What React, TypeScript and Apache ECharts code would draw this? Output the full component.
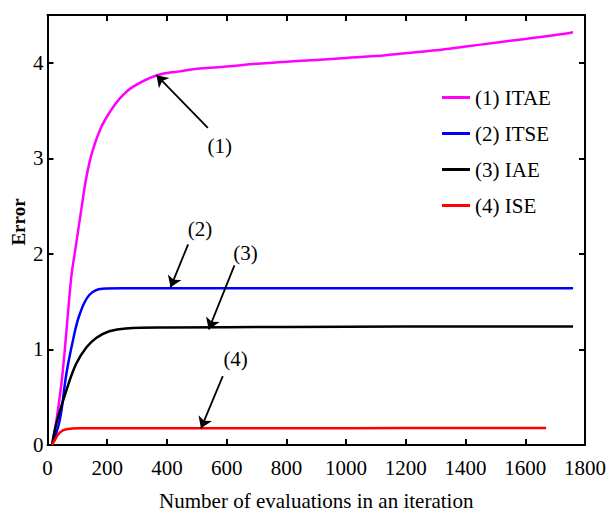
import React, { useEffect, useRef } from "react";
import * as echarts from "echarts";

const itaeX = [15, 30, 50, 80, 91, 113, 130, 151, 179, 210, 243, 287, 367, 443, 510, 600, 700, 800, 900, 1000, 1100, 1165, 1300, 1400, 1500, 1600, 1700, 1760];
const itaeY = [0, 0.26, 0.74, 1.77, 2.0, 2.46, 2.8, 3.08, 3.32, 3.49, 3.63, 3.75, 3.87, 3.91, 3.94, 3.96, 3.99, 4.01, 4.03, 4.05, 4.07, 4.09, 4.13, 4.17, 4.21, 4.25, 4.29, 4.32];
const itseX = [15, 41, 63, 85, 107, 140, 184, 250, 400, 800, 1200, 1760];
const itseY = [0, 0.26, 0.74, 1.09, 1.36, 1.57, 1.635, 1.64, 1.64, 1.64, 1.64, 1.64];
const iaeX = [15, 30, 63, 96, 130, 163, 207, 262, 400, 800, 1200, 1760];
const iaeY = [0, 0.23, 0.57, 0.85, 1.02, 1.12, 1.19, 1.22, 1.23, 1.235, 1.24, 1.24];
const iseX = [15, 25, 41, 63, 107, 200, 600, 1000, 1400, 1670];
const iseY = [0, 0.055, 0.13, 0.165, 0.175, 0.175, 0.175, 0.176, 0.177, 0.177];

const seriesNames = ["(1) ITAE", "(2) ITSE", "(3) IAE", "(4) ISE"];
const seriesColors = ["#ff00ff", "#0000ff", "#000000", "#ff0000"];

const annotLabels = ["(1)", "(2)", "(3)", "(4)"];
const annotLabelPos = [[577, 3.13], [511, 2.26], [663, 2.01], [630, 0.9]];
const arrowTail = [[537, 3.32], [471, 2.1], [626, 1.88], [587, 0.72]];
const arrowTip = [[365, 3.87], [412, 1.65], [540, 1.21], [514, 0.175]];

const xTitle = "Number of evaluations in an iteration";
const yTitle = "Error";

const FONT = "'Liberation Serif', 'Times New Roman', Times, serif";

function zip(xs: number[], ys: number[]) {
  return xs.map((x, i) => [x, ys[i]]);
}

export default function App() {
  const ref = useRef<HTMLDivElement>(null);
  useEffect(() => {
    if (!ref.current) return;
    const chart = echarts.init(ref.current, undefined, { renderer: "svg" });
    const allData = [zip(itaeX, itaeY), zip(itseX, itseY), zip(iaeX, iaeY), zip(iseX, iseY)];
    const axisCommon = {
      type: "value" as const,
      axisLine: { show: true, onZero: false, lineStyle: { color: "#000", width: 2 } },
      axisTick: { show: true, inside: true, length: 6, lineStyle: { color: "#000", width: 2 } },
      splitLine: { show: false },
    };
    chart.setOption({
      animation: false,
      backgroundColor: "#ffffff",
      textStyle: { fontFamily: FONT },
      grid: { left: 47.5, right: 21, top: 15, bottom: 64, containLabel: false },
      legend: {
        orient: "vertical",
        left: 437,
        top: 82,
        data: seriesNames,
        icon: "rect",
        itemWidth: 28,
        itemHeight: 3,
        itemGap: 15,
        textStyle: { fontFamily: FONT, fontSize: 21, color: "#000", lineHeight: 21 },
      },
      graphic: [
        {
          type: "text",
          x: 18,
          y: 222,
          rotation: Math.PI / 2,
          style: {
            text: yTitle,
            fontFamily: FONT,
            fontSize: 19,
            fontWeight: "bold",
            fill: "#000",
            textAlign: "center",
            textVerticalAlign: "middle",
          },
        },
      ],
      xAxis: [
        {
          ...axisCommon,
          min: 0,
          max: 1800,
          interval: 200,
          position: "bottom",
          name: xTitle,
          nameLocation: "middle",
          nameGap: 45,
          nameTextStyle: { fontFamily: FONT, fontSize: 21, color: "#000" },
          axisLabel: { fontFamily: FONT, fontSize: 21, color: "#000", margin: 12, formatter: (v: number) => String(v) },
        },
        {
          ...axisCommon,
          min: 0,
          max: 1800,
          interval: 200,
          position: "top",
          axisLabel: { show: false },
        },
      ],
      yAxis: [
        {
          ...axisCommon,
          min: 0,
          max: 4.5,
          interval: 1,
          position: "left",
          axisLabel: { fontFamily: FONT, fontSize: 21, color: "#000", margin: 4, showMaxLabel: false, formatter: (v: number) => String(v) },
        },
        {
          ...axisCommon,
          min: 0,
          max: 4.5,
          interval: 1,
          position: "right",
          axisLabel: { show: false },
        },
      ],
      series: [
        ...allData.map((d, i) => ({
          name: seriesNames[i],
          type: "line",
          data: d,
          showSymbol: false,
          symbol: "none",
          smooth: 0.4,
          color: seriesColors[i],
          lineStyle: { color: seriesColors[i], width: 2.5 },
          z: 3,
        })),
        {
          name: "arrows",
          type: "lines",
          coordinateSystem: "cartesian2d",
          symbol: ["none", "arrow"],
          symbolSize: 11,
          lineStyle: { color: "#000", width: 1.8, opacity: 1 },
          data: arrowTail.map((t, i) => ({ coords: [t, arrowTip[i]] })),
          z: 4,
        },
        {
          name: "labels",
          type: "scatter",
          symbolSize: 0,
          itemStyle: { opacity: 1 },
          data: annotLabelPos.map((p, i) => ({ value: p, name: annotLabels[i] })),
          label: {
            show: true,
            position: "inside",
            formatter: (p: any) => p.name,
            fontFamily: FONT,
            fontSize: 21,
            color: "#000",
            opacity: 1,
          },
          z: 5,
        },
      ],
    });
    return () => chart.dispose();
  }, []);
  return (
    <div
      ref={ref}
      style={{ position: "fixed", left: 0, top: 0, width: 609, height: 516, background: "#fff" }}
    />
  );
}
